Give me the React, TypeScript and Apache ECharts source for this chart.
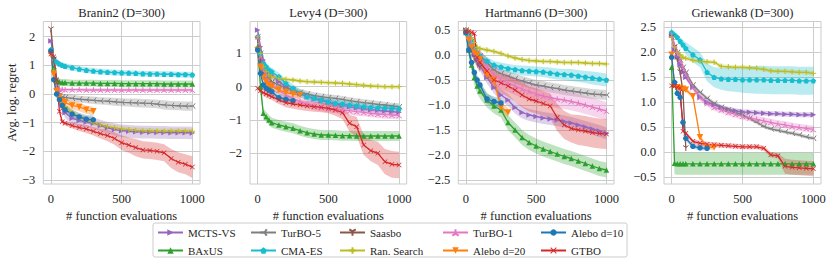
import React, { useEffect, useRef } from 'react';
import * as echarts from 'echarts';

const EVALS = [0, 20, 40, 60, 80, 100, 150, 200, 250, 300, 350, 400, 450, 500, 550, 600, 650, 700, 750, 800, 850, 900, 950, 1000];
const METHODS = ['MCTS-VS', 'BAxUS', 'TurBO-5', 'CMA-ES', 'Saasbo', 'Ran. Search', 'TurBO-1', 'Alebo d=20', 'Alebo d=10', 'GTBO'];
const TITLES = ['Branin2 (D=300)', 'Levy4 (D=300)', 'Hartmann6 (D=300)', 'Griewank8 (D=300)'];
const X_TICKS = [0, 500, 1000];
const Y_TICKS = [
  [-3, -2, -1, 0, 1, 2],
  [-2, -1, 0, 1],
  [-2.5, -2, -1.5, -1, -0.5, 0, 0.5],
  [-0.5, 0, 0.5, 1, 1.5, 2, 2.5],
];
const Y_RANGE = [[-3.14, 2.53], [-2.92, 1.955], [-2.58, 0.67], [-0.634, 2.616]];
const N = null;

// ---------- Branin2 ----------
const b_mcts = [1.85, 1.2, 0.5, 0.0, -0.4, -0.65, -0.85, -0.92, -0.98, -1.02, -1.1, -1.18, -1.24, -1.28, -1.3, -1.32, -1.33, -1.33, -1.34, -1.34, -1.35, -1.35, -1.35, -1.36];
const b_mcts_e = [0.08, 0.12, 0.15, 0.18, 0.18, 0.2, 0.2, 0.2, 0.2, 0.2, 0.2, 0.2, 0.22, 0.22, 0.22, 0.22, 0.22, 0.22, 0.22, 0.22, 0.22, 0.22, 0.22, 0.22];
const b_baxus = [1.5, 0.9, 0.5, 0.42, 0.4, 0.4, 0.38, 0.38, 0.38, 0.38, 0.37, 0.37, 0.37, 0.36, 0.36, 0.36, 0.36, 0.36, 0.36, 0.35, 0.35, 0.35, 0.35, 0.35];
const b_baxus_e = [0.15, 0.15, 0.12, 0.12, 0.12, 0.12, 0.12, 0.12, 0.12, 0.12, 0.12, 0.12, 0.12, 0.12, 0.12, 0.12, 0.12, 0.12, 0.12, 0.12, 0.12, 0.12, 0.12, 0.12];
const b_turbo5 = [1.5, 0.8, 0.2, -0.05, -0.1, -0.12, -0.15, -0.18, -0.2, -0.22, -0.24, -0.25, -0.27, -0.29, -0.3, -0.31, -0.32, -0.33, -0.35, -0.38, -0.4, -0.41, -0.42, -0.42];
const b_turbo5_e = [0.1, 0.12, 0.12, 0.12, 0.12, 0.12, 0.12, 0.12, 0.12, 0.13, 0.13, 0.13, 0.14, 0.14, 0.14, 0.15, 0.15, 0.15, 0.15, 0.16, 0.16, 0.16, 0.16, 0.16];
const b_cma = [1.55, 1.25, 1.12, 1.05, 1.0, 0.97, 0.92, 0.87, 0.83, 0.8, 0.78, 0.76, 0.75, 0.74, 0.73, 0.72, 0.71, 0.7, 0.7, 0.69, 0.69, 0.68, 0.68, 0.67];
const b_cma_e = [0.1, 0.1, 0.1, 0.1, 0.1, 0.1, 0.1, 0.1, 0.1, 0.1, 0.1, 0.1, 0.1, 0.1, 0.1, 0.1, 0.1, 0.1, 0.1, 0.1, 0.1, 0.1, 0.1, 0.1];
const b_saasbo = [2.25, 1.2, 0.3, -0.2, -0.45, -0.55, N, N, N, N, N, N, N, N, N, N, N, N, N, N, N, N, N, N];
const b_saasbo_e = [0.4, 0.3, 0.2, 0.2, 0.2, 0.2, N, N, N, N, N, N, N, N, N, N, N, N, N, N, N, N, N, N];
const b_ran = [1.5, 0.8, 0.2, -0.1, -0.3, -0.45, -0.65, -0.8, -0.9, -1.0, -1.08, -1.14, -1.18, -1.22, -1.25, -1.27, -1.28, -1.29, -1.3, -1.3, -1.3, -1.3, -1.3, -1.3];
const b_ran_e = [0.1, 0.1, 0.1, 0.1, 0.1, 0.1, 0.1, 0.1, 0.1, 0.1, 0.1, 0.1, 0.1, 0.1, 0.1, 0.1, 0.1, 0.1, 0.1, 0.1, 0.1, 0.1, 0.1, 0.1];
const b_turbo1 = [1.5, 0.6, 0.25, 0.18, 0.16, 0.15, 0.15, 0.15, 0.14, 0.14, 0.14, 0.14, 0.14, 0.14, 0.14, 0.14, 0.14, 0.14, 0.14, 0.14, 0.14, 0.14, 0.14, 0.14];
const b_turbo1_e = [0.06, 0.06, 0.06, 0.06, 0.06, 0.06, 0.06, 0.06, 0.06, 0.06, 0.06, 0.06, 0.06, 0.06, 0.06, 0.06, 0.06, 0.06, 0.06, 0.06, 0.06, 0.06, 0.06, 0.06];
const b_alebo20 = [1.4, 0.7, 0.1, -0.1, -0.25, -0.3, -0.4, -0.45, -0.55, -0.6, N, N, N, N, N, N, N, N, N, N, N, N, N, N];
const b_alebo20_e = [0.1, 0.15, 0.15, 0.15, 0.15, 0.15, 0.15, 0.15, 0.15, 0.15, N, N, N, N, N, N, N, N, N, N, N, N, N, N];
const b_alebo10 = [1.5, 0.5, 0.0, -0.2, -0.4, -0.55, -0.7, -0.8, -0.88, -0.9, N, N, N, N, N, N, N, N, N, N, N, N, N, N];
const b_alebo10_e = [0.1, 0.15, 0.15, 0.15, 0.15, 0.15, 0.15, 0.15, 0.15, 0.15, N, N, N, N, N, N, N, N, N, N, N, N, N, N];
const b_gtbo = [1.4, 1.3, 0.5, -0.6, -0.97, -1.02, -1.1, -1.17, -1.22, -1.3, -1.38, -1.45, -1.55, -1.7, -1.78, -1.87, -1.95, -1.97, -2.0, -2.05, -2.25, -2.38, -2.45, -2.55];
const b_gtbo_e = [0.05, 0.1, 0.15, 0.1, 0.08, 0.08, 0.1, 0.12, 0.14, 0.15, 0.17, 0.2, 0.22, 0.25, 0.27, 0.3, 0.3, 0.3, 0.3, 0.3, 0.33, 0.35, 0.35, 0.38];

// ---------- Levy4 ----------
const l_mcts = [1.7, 1.2, 0.8, 0.6, 0.45, 0.35, 0.15, 0.0, -0.12, -0.22, -0.3, -0.37, -0.42, -0.47, -0.52, -0.56, -0.6, -0.63, -0.66, -0.69, -0.71, -0.73, -0.75, -0.77];
const l_mcts_e = [0.05, 0.1, 0.1, 0.1, 0.1, 0.1, 0.1, 0.1, 0.1, 0.1, 0.1, 0.1, 0.1, 0.1, 0.1, 0.1, 0.1, 0.1, 0.1, 0.1, 0.1, 0.1, 0.1, 0.1];
const l_baxus = [1.2, 0.0, -0.8, -0.9, -1.0, -1.08, -1.15, -1.2, -1.25, -1.32, -1.38, -1.42, -1.45, -1.45, -1.46, -1.47, -1.47, -1.48, -1.48, -1.48, -1.48, -1.48, -1.48, -1.48];
const l_baxus_e = [0.1, 0.15, 0.15, 0.15, 0.15, 0.15, 0.15, 0.15, 0.15, 0.15, 0.15, 0.15, 0.15, 0.15, 0.15, 0.15, 0.15, 0.15, 0.15, 0.15, 0.15, 0.15, 0.15, 0.15];
const l_turbo5 = [1.5, 1.0, 0.6, 0.4, 0.25, 0.15, 0.05, -0.03, -0.1, -0.17, -0.22, -0.27, -0.3, -0.33, -0.35, -0.38, -0.42, -0.45, -0.48, -0.5, -0.53, -0.55, -0.58, -0.6];
const l_turbo5_e = [0.1, 0.1, 0.1, 0.1, 0.1, 0.1, 0.1, 0.1, 0.1, 0.1, 0.1, 0.1, 0.1, 0.1, 0.1, 0.1, 0.1, 0.1, 0.1, 0.1, 0.1, 0.1, 0.1, 0.1];
const l_cma = [1.5, 1.0, 0.7, 0.6, 0.5, 0.45, 0.3, 0.1, -0.05, -0.2, -0.3, -0.35, -0.4, -0.45, -0.5, -0.52, -0.55, -0.57, -0.6, -0.62, -0.63, -0.64, -0.65, -0.66];
const l_cma_e = [0.08, 0.12, 0.12, 0.12, 0.12, 0.12, 0.12, 0.12, 0.12, 0.12, 0.12, 0.12, 0.12, 0.12, 0.12, 0.12, 0.12, 0.12, 0.12, 0.12, 0.12, 0.12, 0.12, 0.12];
const l_saasbo = [1.4, 0.8, 0.4, 0.2, 0.1, 0.05, N, N, N, N, N, N, N, N, N, N, N, N, N, N, N, N, N, N];
const l_saasbo_e = [0.2, 0.2, 0.2, 0.2, 0.2, 0.2, N, N, N, N, N, N, N, N, N, N, N, N, N, N, N, N, N, N];
const l_ran = [1.5, 1.0, 0.6, 0.45, 0.35, 0.3, 0.25, 0.22, 0.2, 0.17, 0.15, 0.14, 0.13, 0.12, 0.11, 0.1, 0.08, 0.06, 0.04, 0.02, 0.01, 0.0, 0.0, 0.0];
const l_ran_e = [0.06, 0.06, 0.06, 0.06, 0.06, 0.06, 0.06, 0.06, 0.06, 0.06, 0.06, 0.06, 0.06, 0.06, 0.06, 0.06, 0.06, 0.06, 0.06, 0.06, 0.06, 0.06, 0.06, 0.06];
const l_turbo1 = [1.5, 0.9, 0.5, 0.3, 0.15, 0.05, -0.1, -0.25, -0.35, -0.45, -0.52, -0.58, -0.62, -0.65, -0.68, -0.7, -0.72, -0.75, -0.77, -0.8, -0.82, -0.84, -0.85, -0.86];
const l_turbo1_e = [0.1, 0.12, 0.12, 0.12, 0.12, 0.12, 0.12, 0.12, 0.12, 0.12, 0.12, 0.12, 0.12, 0.12, 0.12, 0.12, 0.12, 0.12, 0.12, 0.12, 0.12, 0.12, 0.12, 0.12];
const l_alebo20 = [1.1, 0.6, 0.3, 0.15, 0.05, 0.0, -0.1, -0.17, -0.22, -0.25, N, N, N, N, N, N, N, N, N, N, N, N, N, N];
const l_alebo20_e = [0.1, 0.12, 0.12, 0.12, 0.12, 0.12, 0.12, 0.12, 0.12, 0.12, N, N, N, N, N, N, N, N, N, N, N, N, N, N];
const l_alebo10 = [1.1, 0.4, 0.05, -0.05, -0.1, -0.15, -0.33, -0.38, -0.42, N, N, N, N, N, N, N, N, N, N, N, N, N, N, N];
const l_alebo10_e = [0.1, 0.12, 0.12, 0.12, 0.12, 0.12, 0.12, 0.12, 0.12, N, N, N, N, N, N, N, N, N, N, N, N, N, N, N];
const l_gtbo = [-0.05, -0.12, -0.18, -0.22, -0.26, -0.3, -0.4, -0.48, -0.52, -0.55, -0.58, -0.6, -0.62, -0.65, -0.7, -0.78, -1.1, -1.2, -1.75, -1.92, -2.0, -2.25, -2.33, -2.35];
const l_gtbo_e = [0.05, 0.08, 0.1, 0.1, 0.1, 0.1, 0.12, 0.14, 0.14, 0.15, 0.15, 0.15, 0.15, 0.15, 0.17, 0.2, 0.25, 0.3, 0.3, 0.32, 0.35, 0.38, 0.4, 0.4];

// ---------- Hartmann6 ----------
const h_mcts = [0.5, 0.35, 0.15, 0.0, -0.1, -0.2, -0.45, -0.65, -0.8, -0.9, -1.05, -1.15, -1.2, -1.23, -1.26, -1.28, -1.3, -1.33, -1.36, -1.4, -1.44, -1.48, -1.52, -1.57];
const h_mcts_e = [0.03, 0.08, 0.1, 0.12, 0.12, 0.12, 0.12, 0.12, 0.12, 0.12, 0.12, 0.12, 0.12, 0.12, 0.12, 0.12, 0.12, 0.12, 0.12, 0.12, 0.12, 0.12, 0.12, 0.12];
const h_baxus = [0.45, 0.1, -0.2, -0.45, -0.62, -0.72, -0.9, -1.02, -1.1, -1.35, -1.5, -1.65, -1.75, -1.82, -1.88, -1.93, -1.98, -2.03, -2.07, -2.12, -2.17, -2.22, -2.27, -2.3];
const h_baxus_e = [0.05, 0.1, 0.12, 0.15, 0.15, 0.15, 0.15, 0.15, 0.15, 0.15, 0.15, 0.15, 0.15, 0.15, 0.15, 0.15, 0.15, 0.15, 0.15, 0.15, 0.15, 0.15, 0.15, 0.15];
const h_turbo5 = [0.5, 0.4, 0.28, 0.15, 0.05, -0.02, -0.15, -0.3, -0.37, -0.42, -0.47, -0.52, -0.56, -0.6, -0.62, -0.65, -0.67, -0.7, -0.72, -0.74, -0.76, -0.78, -0.79, -0.8];
const h_turbo5_e = [0.03, 0.08, 0.1, 0.1, 0.1, 0.1, 0.1, 0.1, 0.1, 0.1, 0.1, 0.1, 0.1, 0.1, 0.1, 0.1, 0.1, 0.1, 0.1, 0.1, 0.1, 0.1, 0.1, 0.1];
const h_cma = [0.5, 0.4, 0.25, 0.12, 0.03, -0.02, -0.12, -0.2, -0.24, -0.27, -0.29, -0.31, -0.32, -0.33, -0.34, -0.36, -0.38, -0.39, -0.4, -0.42, -0.44, -0.46, -0.48, -0.5];
const h_cma_e = [0.03, 0.06, 0.08, 0.08, 0.08, 0.08, 0.08, 0.08, 0.09, 0.09, 0.09, 0.1, 0.1, 0.1, 0.1, 0.11, 0.11, 0.11, 0.12, 0.12, 0.12, 0.13, 0.13, 0.13];
const h_saasbo = [0.48, 0.3, 0.1, -0.05, -0.15, -0.25, N, N, N, N, N, N, N, N, N, N, N, N, N, N, N, N, N, N];
const h_saasbo_e = [0.05, 0.1, 0.1, 0.1, 0.1, 0.1, N, N, N, N, N, N, N, N, N, N, N, N, N, N, N, N, N, N];
const h_ran = [0.5, 0.45, 0.35, 0.25, 0.15, 0.13, 0.1, 0.07, 0.03, -0.02, -0.06, -0.09, -0.11, -0.12, -0.13, -0.13, -0.14, -0.15, -0.15, -0.15, -0.16, -0.17, -0.17, -0.18];
const h_ran_e = [0.04, 0.04, 0.04, 0.04, 0.04, 0.04, 0.04, 0.04, 0.04, 0.04, 0.04, 0.04, 0.04, 0.04, 0.04, 0.04, 0.04, 0.04, 0.04, 0.04, 0.04, 0.04, 0.04, 0.04];
const h_turbo1 = [0.5, 0.38, 0.25, 0.1, 0.0, -0.08, -0.25, -0.4, -0.5, -0.56, -0.62, -0.68, -0.73, -0.78, -0.82, -0.85, -0.88, -0.9, -0.93, -0.96, -1.0, -1.04, -1.08, -1.12];
const h_turbo1_e = [0.03, 0.08, 0.12, 0.15, 0.18, 0.18, 0.18, 0.18, 0.18, 0.18, 0.18, 0.18, 0.18, 0.18, 0.18, 0.18, 0.18, 0.18, 0.18, 0.18, 0.18, 0.18, 0.18, 0.18];
const h_alebo20 = [0.45, 0.3, 0.15, 0.05, 0.0, -0.08, -0.4, -0.5, -1.05, -1.15, N, N, N, N, N, N, N, N, N, N, N, N, N, N];
const h_alebo20_e = [0.05, 0.1, 0.1, 0.1, 0.1, 0.1, 0.1, 0.1, 0.1, 0.1, N, N, N, N, N, N, N, N, N, N, N, N, N, N];
const h_alebo10 = [0.45, 0.1, -0.15, -0.35, -0.5, -0.6, -0.88, -0.93, -0.96, N, N, N, N, N, N, N, N, N, N, N, N, N, N, N];
const h_alebo10_e = [0.05, 0.1, 0.1, 0.1, 0.1, 0.1, 0.1, 0.1, 0.1, N, N, N, N, N, N, N, N, N, N, N, N, N, N, N];
const h_gtbo = [0.47, 0.47, 0.45, 0.43, -0.05, -0.15, -0.32, -0.5, -0.56, -0.62, -0.7, -0.8, -0.88, -0.92, -0.97, -1.02, -1.25, -1.4, -1.47, -1.5, -1.52, -1.55, -1.57, -1.58];
const h_gtbo_e = [0.03, 0.05, 0.05, 0.05, 0.1, 0.12, 0.15, 0.18, 0.2, 0.22, 0.23, 0.25, 0.25, 0.25, 0.25, 0.25, 0.27, 0.28, 0.28, 0.3, 0.3, 0.3, 0.3, 0.3];

// ---------- Griewank8 ----------
const g_mcts = [2.35, 2.05, 1.9, 1.75, 1.6, 1.5, 1.3, 1.1, 1.0, 0.95, 0.9, 0.86, 0.83, 0.81, 0.8, 0.79, 0.78, 0.77, 0.77, 0.76, 0.76, 0.75, 0.75, 0.75];
const g_mcts_e = [0.04, 0.05, 0.05, 0.05, 0.05, 0.05, 0.05, 0.05, 0.05, 0.05, 0.05, 0.05, 0.05, 0.05, 0.05, 0.05, 0.05, 0.05, 0.05, 0.05, 0.05, 0.05, 0.05, 0.05];
const g_baxus = [1.7, -0.22, -0.23, -0.23, -0.23, -0.23, -0.23, -0.23, -0.23, -0.23, -0.23, -0.23, -0.23, -0.23, -0.23, -0.23, -0.23, -0.23, -0.23, -0.23, -0.23, -0.23, -0.23, -0.23];
const g_baxus_e = [0.05, 0.22, 0.22, 0.22, 0.22, 0.22, 0.22, 0.22, 0.22, 0.22, 0.22, 0.22, 0.22, 0.22, 0.22, 0.22, 0.22, 0.22, 0.22, 0.22, 0.22, 0.22, 0.22, 0.22];
const g_turbo5 = [2.3, 2.1, 2.0, 1.85, 1.7, 1.6, 1.35, 1.2, 1.08, 0.98, 0.9, 0.85, 0.8, 0.75, 0.68, 0.6, 0.52, 0.47, 0.44, 0.41, 0.38, 0.35, 0.31, 0.28];
const g_turbo5_e = [0.04, 0.04, 0.04, 0.04, 0.04, 0.04, 0.04, 0.04, 0.04, 0.04, 0.04, 0.04, 0.04, 0.04, 0.04, 0.04, 0.04, 0.04, 0.04, 0.04, 0.04, 0.04, 0.04, 0.04];
const g_cma = [2.4, 2.35, 2.3, 2.22, 2.15, 2.08, 1.95, 1.85, 1.6, 1.5, 1.47, 1.46, 1.46, 1.45, 1.45, 1.45, 1.45, 1.44, 1.44, 1.44, 1.44, 1.43, 1.43, 1.43];
const g_cma_e = [0.04, 0.05, 0.06, 0.08, 0.1, 0.12, 0.15, 0.15, 0.18, 0.2, 0.22, 0.24, 0.25, 0.26, 0.27, 0.28, 0.28, 0.28, 0.28, 0.28, 0.28, 0.28, 0.28, 0.28];
const g_saasbo = [2.3, 2.1, 1.85, 1.6, 1.2, 0.08, N, N, N, N, N, N, N, N, N, N, N, N, N, N, N, N, N, N];
const g_saasbo_e = [0.05, 0.05, 0.05, 0.05, 0.05, 0.05, N, N, N, N, N, N, N, N, N, N, N, N, N, N, N, N, N, N];
const g_ran = [2.3, 2.1, 2.0, 1.95, 1.9, 1.88, 1.84, 1.82, 1.81, 1.8, 1.72, 1.71, 1.7, 1.7, 1.69, 1.68, 1.66, 1.63, 1.62, 1.62, 1.61, 1.6, 1.6, 1.58];
const g_ran_e = [0.04, 0.04, 0.04, 0.04, 0.04, 0.04, 0.04, 0.04, 0.04, 0.04, 0.04, 0.04, 0.04, 0.04, 0.04, 0.04, 0.04, 0.04, 0.04, 0.04, 0.04, 0.04, 0.04, 0.04];
const g_turbo1 = [2.35, 2.15, 2.0, 1.85, 1.7, 1.55, 1.3, 1.1, 0.98, 0.9, 0.85, 0.8, 0.76, 0.72, 0.69, 0.66, 0.63, 0.6, 0.57, 0.55, 0.52, 0.5, 0.48, 0.46];
const g_turbo1_e = [0.05, 0.07, 0.07, 0.07, 0.07, 0.07, 0.07, 0.07, 0.07, 0.07, 0.07, 0.07, 0.07, 0.07, 0.07, 0.07, 0.07, 0.07, 0.07, 0.07, 0.07, 0.07, 0.07, 0.07];
const g_alebo20 = [1.95, 1.35, 1.3, 1.28, 1.27, 1.25, 1.12, 0.3, 0.1, 0.1, N, N, N, N, N, N, N, N, N, N, N, N, N, N];
const g_alebo20_e = [0.05, 0.05, 0.05, 0.05, 0.05, 0.05, 0.05, 0.05, 0.05, 0.05, N, N, N, N, N, N, N, N, N, N, N, N, N, N];
const g_alebo10 = [1.9, 1.4, 1.18, 1.1, 0.6, 0.28, 0.12, 0.09, 0.08, N, N, N, N, N, N, N, N, N, N, N, N, N, N, N];
const g_alebo10_e = [0.05, 0.05, 0.05, 0.05, 0.05, 0.05, 0.05, 0.05, 0.05, N, N, N, N, N, N, N, N, N, N, N, N, N, N, N];
const g_gtbo = [1.33, 1.32, 1.3, 1.28, 0.42, 0.38, 0.22, 0.18, 0.16, 0.15, 0.14, 0.13, 0.12, 0.11, 0.11, 0.11, 0.08, -0.05, -0.07, -0.28, -0.3, -0.31, -0.32, -0.33];
const g_gtbo_e = [0.03, 0.03, 0.03, 0.03, 0.04, 0.04, 0.04, 0.05, 0.05, 0.05, 0.05, 0.05, 0.05, 0.05, 0.05, 0.05, 0.05, 0.05, 0.05, 0.15, 0.15, 0.15, 0.15, 0.15];

const PANEL_DATA = [
  [[b_mcts, b_mcts_e], [b_baxus, b_baxus_e], [b_turbo5, b_turbo5_e], [b_cma, b_cma_e], [b_saasbo, b_saasbo_e], [b_ran, b_ran_e], [b_turbo1, b_turbo1_e], [b_alebo20, b_alebo20_e], [b_alebo10, b_alebo10_e], [b_gtbo, b_gtbo_e]],
  [[l_mcts, l_mcts_e], [l_baxus, l_baxus_e], [l_turbo5, l_turbo5_e], [l_cma, l_cma_e], [l_saasbo, l_saasbo_e], [l_ran, l_ran_e], [l_turbo1, l_turbo1_e], [l_alebo20, l_alebo20_e], [l_alebo10, l_alebo10_e], [l_gtbo, l_gtbo_e]],
  [[h_mcts, h_mcts_e], [h_baxus, h_baxus_e], [h_turbo5, h_turbo5_e], [h_cma, h_cma_e], [h_saasbo, h_saasbo_e], [h_ran, h_ran_e], [h_turbo1, h_turbo1_e], [h_alebo20, h_alebo20_e], [h_alebo10, h_alebo10_e], [h_gtbo, h_gtbo_e]],
  [[g_mcts, g_mcts_e], [g_baxus, g_baxus_e], [g_turbo5, g_turbo5_e], [g_cma, g_cma_e], [g_saasbo, g_saasbo_e], [g_ran, g_ran_e], [g_turbo1, g_turbo1_e], [g_alebo20, g_alebo20_e], [g_alebo10, g_alebo10_e], [g_gtbo, g_gtbo_e]],
];

// ---------- styles ----------
const FONT = 'Liberation Serif';
const FS = 12.5;
const TEXT = '#262626';
const GRIDC = '#cccccc';
const COLORS = ['#9467bd', '#2ca02c', '#7f7f7f', '#17becf', '#8c564b', '#bcbd22', '#e377c2', '#ff7f0e', '#1f77b4', '#d62728'];
const SYM_PENT = 'path://M0,-10 L9.51,-3.09 L5.88,8.09 L-5.88,8.09 L-9.51,-3.09 Z';
const SYM_X = 'path://M-10,-8 L-8,-10 L0,-2 L8,-10 L10,-8 L2,0 L10,8 L8,10 L0,2 L-8,10 L-10,8 L-2,0 Z';
const SYM_TRI_LEFT = 'path://M0,0 L-10,0 M0,0 L5,-8.66 M0,0 L5,8.66';
const SYM_TRI_DOWN = 'path://M0,0 L0,10 M0,0 L-8.66,-5 M0,0 L8.66,-5';
const SYM_PLUS = 'path://M-10,0 L10,0 M0,-10 L0,10';
const SYM_TRI_UP = 'path://M0,0 L0,-10 M0,0 L-8.66,5 M0,0 L8.66,5';
const MARKERS = [
  { symbol: 'triangle', rotate: -90, size: 5.5, open: false },
  { symbol: 'triangle', rotate: 0, size: 5.5, open: false },
  { symbol: SYM_TRI_LEFT, rotate: 0, size: 5.5, open: true },
  { symbol: SYM_PENT, rotate: 0, size: 5.5, open: false },
  { symbol: SYM_TRI_DOWN, rotate: 0, size: 5.5, open: true },
  { symbol: SYM_PLUS, rotate: 0, size: 5.5, open: true },
  { symbol: SYM_TRI_UP, rotate: 0, size: 5.5, open: true },
  { symbol: 'triangle', rotate: 180, size: 6.5, open: false },
  { symbol: 'circle', rotate: 0, size: 5.5, open: false },
  { symbol: SYM_X, rotate: 0, size: 5, open: false },
];
const GRIDS = [
  { left: 43.3, top: 21.5, width: 156.7, height: 162.5 },
  { left: 250, top: 21.5, width: 156.7, height: 162.5 },
  { left: 458.3, top: 21.5, width: 155.7, height: 162.5 },
  { left: 664, top: 21.5, width: 157, height: 162.5 },
];
const LEGEND_COLS = [
  { left: 157, names: ['MCTS-VS', 'BAxUS'] },
  { left: 250, names: ['TurBO-5', 'CMA-ES'] },
  { left: 339, names: ['Saasbo', 'Ran. Search'] },
  { left: 442, names: ['TurBO-1', 'Alebo d=20'] },
  { left: 540, names: ['Alebo d=10', 'GTBO'] },
];

function rgba(hex: string, a: number) {
  const r = parseInt(hex.slice(1, 3), 16), g = parseInt(hex.slice(3, 5), 16), b = parseInt(hex.slice(5, 7), 16);
  return `rgba(${r},${g},${b},${a})`;
}
function fmt(v: number, dec: number) {
  const s = Math.abs(v).toFixed(dec);
  return v < 0 ? '\u2212' + s : s;
}

export default function App() {
  const ref = useRef<HTMLDivElement>(null);
  useEffect(() => {
    if (!ref.current) return;
    const chart = echarts.init(ref.current, null, { renderer: 'svg' });
    const grid: any[] = [], xAxis: any[] = [], yAxis: any[] = [], series: any[] = [], graphic: any[] = [];
    const lineSeries: any[] = [];
    for (let p = 0; p < 4; p++) {
      const g = GRIDS[p];
      grid.push({ ...g, show: true, borderColor: GRIDC, borderWidth: 1, backgroundColor: '#fff' });
      const dec = p >= 2 ? 1 : 0;
      xAxis.push({
        type: 'value', gridIndex: p, min: -54, max: 1054,
        axisLine: { show: false }, axisTick: { show: false, customValues: X_TICKS },
        axisLabel: { customValues: X_TICKS, color: TEXT, fontFamily: FONT, fontSize: FS, margin: 8, formatter: (v: number) => String(v) },
        splitLine: { show: true, lineStyle: { color: GRIDC, width: 1 } },
        name: '# function evaluations', nameLocation: 'middle', nameGap: 22,
        nameTextStyle: { color: TEXT, fontFamily: FONT, fontSize: FS },
      });
      yAxis.push({
        type: 'value', gridIndex: p, min: Y_RANGE[p][0], max: Y_RANGE[p][1],
        axisLine: { show: false }, axisTick: { show: false, customValues: Y_TICKS[p] },
        axisLabel: { customValues: Y_TICKS[p], color: TEXT, fontFamily: FONT, fontSize: FS, margin: 8, formatter: (v: number) => fmt(v, dec) },
        splitLine: { show: true, lineStyle: { color: GRIDC, width: 1 } },
        name: p === 0 ? 'Avg. log. regret' : '', nameLocation: 'middle', nameGap: 20,
        nameTextStyle: { color: TEXT, fontFamily: FONT, fontSize: FS },
      });
      graphic.push({
        type: 'text', x: g.left + g.width / 2, y: 13,
        style: { text: TITLES[p], fill: TEXT, fontFamily: FONT, fontSize: FS, textAlign: 'center', textVerticalAlign: 'middle' },
      });
      PANEL_DATA[p].forEach(([mean, err], m) => {
        const color = COLORS[m];
        const pts: number[][] = [];
        EVALS.forEach((x, i) => { if (mean[i] != null) pts.push([x, (mean[i] as number) - (err[i] as number), (mean[i] as number) + (err[i] as number), mean[i] as number]); });
        series.push({
          type: 'custom', xAxisIndex: p, yAxisIndex: p, silent: true, clip: true, z: 1,
          data: pts, encode: { x: 0, y: [1, 2] },
          renderItem: (params: any, api: any) => {
            if (params.dataIndex !== 0) return null;
            const upper = pts.map((d) => api.coord([d[0], d[2]]));
            const lower = pts.slice().reverse().map((d) => api.coord([d[0], d[1]]));
            return { type: 'polygon', shape: { points: upper.concat(lower) }, style: { fill: rgba(color, 0.3), stroke: 'none' } };
          },
        });
        const mk = MARKERS[m];
        lineSeries.push({
          type: 'line', name: METHODS[m], xAxisIndex: p, yAxisIndex: p, z: 3,
          data: pts.map((d) => [d[0], d[3]]),
          symbol: mk.symbol, symbolSize: mk.size, symbolRotate: mk.rotate, showSymbol: true,
          lineStyle: { color, width: 1.3 },
          itemStyle: mk.open ? { color, borderColor: color, borderWidth: 1 } : { color, borderWidth: 0 },
          emphasis: { disabled: true },
        });
      });
    }
    graphic.push({
      type: 'rect', shape: { x: 153, y: 223, width: 474, height: 34, r: 2 },
      style: { fill: '#fff', stroke: GRIDC, lineWidth: 1 }, z: -1,
    });
    const legend = LEGEND_COLS.map((c) => ({
      data: c.names, left: c.left, top: 227, orient: 'vertical', padding: 0, itemWidth: 25, itemHeight: 8, itemGap: 7,
      textStyle: { color: TEXT, fontFamily: FONT, fontSize: 11 }, selectedMode: false,
    }));
    chart.setOption({
      animation: false,
      backgroundColor: '#fff',
      grid, xAxis, yAxis, legend, graphic,
      series: series.concat(lineSeries),
    });
    return () => chart.dispose();
  }, []);
  return <div ref={ref} style={{ position: 'fixed', left: 0, top: 0, width: 831, height: 264 }} />;
}
